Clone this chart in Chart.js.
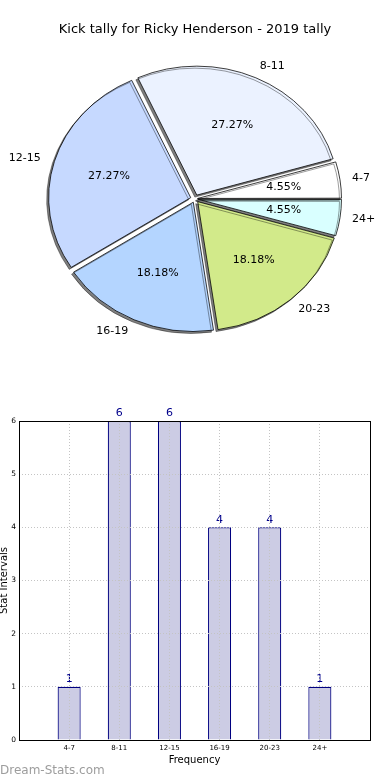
<!DOCTYPE html>
<html>
<head>
<meta charset="utf-8">
<script src="https://cdn.jsdelivr.net/npm/chart.js@4/dist/chart.umd.min.js"></script>
<style>
    html, body { margin: 0; padding: 0; background: #fff; overflow: hidden; }
    body { width: 390px; height: 780px; position: relative; }
    #pieChart { position: absolute; left: 0; top: 0; }
    #barChart { position: absolute; left: -2px; top: 400px; }
    #mark { position: absolute; left: 0; top: 763px; font: 12px "DejaVu Sans", sans-serif; color: #9d9d9d; }
</style>
</head>
<body>
<canvas id="pieChart" width="390" height="360"></canvas>
<canvas id="barChart" width="392" height="380"></canvas>
<div id="mark">Dream-Stats.com</div>
<script>
var categories = ['4-7', '8-11', '12-15', '16-19', '20-23', '24+'];
var counts = [1, 6, 6, 4, 4, 1];
var sliceColors = ['#ffffff', '#ebf2ff', '#c6d9ff', '#b4d5ff', '#d2ea8a', '#d9ffff'];
var chartTitle = 'Kick tally for Ricky Henderson - 2019 tally';
var yTicks = [0, 1, 2, 3, 4, 5, 6];

var FONT = '"DejaVu Sans", sans-serif';
var EXPLODE = 4.5;
var SQUASH = 0.908;

Chart.defaults.font.family = FONT;
Chart.defaults.color = '#000';
Chart.defaults.animation = false;

var total = counts.reduce(function (a, b) { return a + b; }, 0);

// matplotlib goes counter clockwise, chart.js clockwise -> reverse
var pieLabels = categories.slice().reverse();
var pieData = counts.slice().reverse();
var pieColors = sliceColors.slice().reverse();

function arcOffset(c) {
    var circ = pieData[c.dataIndex] / total * Math.PI * 2;
    var fix = 1 - Math.sin(Math.min(Math.PI, circ));
    return 4 * EXPLODE / (1 + fix);
}

var pieLook = {
    id: 'pieLook',
    beforeDatasetsDraw: function (chart) {
        var el = chart.getDatasetMeta(0).data[0];
        var ctx = chart.ctx;
        ctx.save();
        ctx.translate(el.x, el.y);
        ctx.scale(1, SQUASH);
        ctx.translate(-el.x, -el.y);
        ctx.shadowColor = 'rgba(0,0,0,0.5)';
        ctx.shadowOffsetX = -2;
        ctx.shadowOffsetY = 2;
        ctx.shadowBlur = 0;
    },
    afterDatasetsDraw: function (chart) {
        var ctx = chart.ctx;
        ctx.restore();
        var arcs = chart.getDatasetMeta(0).data;
        ctx.save();
        ctx.font = '11px ' + FONT;
        ctx.fillStyle = '#000';
        ctx.textBaseline = 'middle';
        for (var i = 0; i < arcs.length; i++) {
            var a = arcs[i];
            var mid = (a.startAngle + a.endAngle) / 2;
            var r = a.outerRadius;
            var c = Math.cos(mid), s = Math.sin(mid);
            var pct = (pieData[i] / total * 100).toFixed(2) + '%';
            ctx.textAlign = 'center';
            ctx.fillText(pct, a.x + c * (EXPLODE + 0.6 * r), a.y + s * (EXPLODE + 0.6 * r) * SQUASH);
            ctx.textAlign = c >= 0 ? 'left' : 'right';
            ctx.fillText(pieLabels[i], a.x + c * (EXPLODE + 1.1 * r) - (c >= 0 ? 2 : 0), a.y + s * (EXPLODE + 1.1 * r) * SQUASH);
        }
        ctx.restore();
    }
};

new Chart(document.getElementById('pieChart').getContext('2d'), {
    type: 'pie',
    data: {
        labels: pieLabels,
        datasets: [{
            data: pieData,
            backgroundColor: pieColors,
            borderColor: '#000',
            borderWidth: 0.8,
            offset: arcOffset,
            clip: false
        }]
    },
    options: {
        responsive: false,
        rotation: 90,
        radius: 142,
        layout: { padding: 0 },
        plugins: {
            legend: { display: false },
            tooltip: { enabled: false },
            title: {
                display: true,
                text: chartTitle,
                color: '#000',
                font: { size: 13, weight: 'normal' },
                padding: { top: 22, bottom: 0 }
            }
        }
    },
    plugins: [pieLook]
});

var barLabels = [''].concat(categories, ['']);
var barData = [null].concat(counts, [null]);

var barLook = {
    id: 'barLook',
    afterDatasetsDraw: function (chart) {
        var ctx = chart.ctx;
        var meta = chart.getDatasetMeta(0);
        ctx.save();
        ctx.font = '11px ' + FONT;
        ctx.fillStyle = '#00008b';
        ctx.textAlign = 'center';
        ctx.textBaseline = 'bottom';
        meta.data.forEach(function (bar, i) {
            if (barData[i] == null) {
                return;
            }
            ctx.fillText(String(barData[i]), bar.x, bar.y - 2);
        });
        ctx.restore();
    },
    afterDraw: function (chart) {
        var a = chart.chartArea;
        var ctx = chart.ctx;
        ctx.save();
        ctx.strokeStyle = '#000';
        ctx.lineWidth = 1;
        ctx.strokeRect(Math.round(a.left) + 0.5, Math.round(a.top) + 0.5,
            Math.round(a.right - a.left), Math.round(a.bottom - a.top));
        ctx.restore();
    }
};

new Chart(document.getElementById('barChart').getContext('2d'), {
    type: 'bar',
    data: {
        labels: barLabels,
        datasets: [{
            data: barData,
            backgroundColor: '#cccce4',
            borderColor: '#000080',
            borderWidth: 1.2,
            barPercentage: 0.46,
            categoryPercentage: 1
        }]
    },
    options: {
        responsive: false,
        layout: { padding: { top: 21, right: 20, bottom: 10, left: 0 } },
        plugins: {
            legend: { display: false },
            tooltip: { enabled: false }
        },
        scales: {
            x: {
                type: 'category',
                offset: false,
                grid: { offset: false, color: '#c4c4c4', lineWidth: 1, drawTicks: false, z: 1 },
                border: { display: false, dash: [1, 2] },
                ticks: { font: { size: 7 }, padding: 4, maxRotation: 0, autoSkip: false },
                title: { display: true, text: 'Frequency', font: { size: 10 }, padding: { top: 2, bottom: 4 } },
                afterFit: function (s) { s.height = 30; }
            },
            y: {
                min: yTicks[0],
                max: yTicks[yTicks.length - 1],
                grid: { color: '#c4c4c4', lineWidth: 1, drawTicks: false, z: 1 },
                border: { display: false, dash: [1, 2] },
                ticks: { stepSize: 1, font: { size: 7.5 }, padding: 3 },
                title: { display: true, text: 'Stat Intervals', font: { size: 10 }, padding: 0 },
                afterFit: function (s) { s.width = 21; }
            }
        }
    },
    plugins: [barLook]
});
</script>
</body>
</html>
